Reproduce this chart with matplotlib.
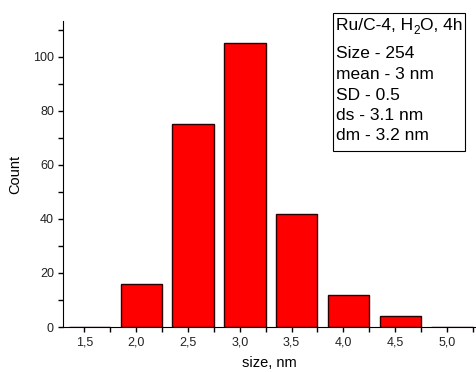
import numpy as np
import matplotlib.pyplot as plt
from matplotlib.patches import Rectangle
from matplotlib.ticker import MultipleLocator, FuncFormatter

plt.rcParams['font.family'] = ['Liberation Sans', 'DejaVu Sans']

# histogram data
sizes = [1.5, 2.0, 2.5, 3.0, 3.5, 4.0, 4.5, 5.0]
counts = [0, 16, 75, 105, 42, 12, 4, 0]
title_parts = ['Ru/C-4, H', '2', 'O, 4h']
info = ['Size - 254', 'mean - 3 nm', 'SD - 0.5', 'ds - 3.1 nm', 'dm - 3.2 nm']

W, H = 476, 372
fig = plt.figure(figsize=(W/100, H/100), dpi=100)
ax = fig.add_axes([63/W, 45/H, 1 - 63/W, (327 - 21)/H])

x = np.array(sizes)
ax.bar(x - 0.15, counts, width=0.4, align='edge', color='#ff0000',
       edgecolor='#2a0000', linewidth=1.0)

ax.set_xlim(1.295, 5.28)
ax.set_ylim(0, 113.3)

ax.spines['top'].set_visible(False)
ax.spines['right'].set_visible(False)

ax.xaxis.set_major_locator(MultipleLocator(0.5))
ax.xaxis.set_minor_locator(MultipleLocator(0.25))
ax.yaxis.set_major_locator(MultipleLocator(20))
ax.yaxis.set_minor_locator(MultipleLocator(10))
ax.xaxis.set_major_formatter(FuncFormatter(lambda v, p: f'{v:.1f}'.replace('.', ',')))
ax.tick_params(which='both', direction='out', length=3.5, width=1, labelsize=9,
               colors='black', labelcolor='#222222', pad=3)

ax.set_xlabel('size, nm', fontsize=10.5, labelpad=6)
ax.set_ylabel('Count', fontsize=10.5, labelpad=8)

# info box
fig.patches.append(Rectangle((333/W, 1 - 151/H), 132/W, 138/H, transform=fig.transFigure,
                             facecolor='white', edgecolor='black', linewidth=0.8))

# first line with a lowered subscript, pieces placed one after another
renderer = fig.canvas.get_renderer()
xpos = 336
for part, size, drop in zip(title_parts, [12.5, 8.5, 12.5], [0, 4.5, 0]):
    t = fig.text(xpos/W, 1 - (30 + drop)/H, part, fontsize=size, va='baseline', ha='left')
    xpos += t.get_window_extent(renderer).width + 0.3

baselines = [58.5, 79, 99.5, 119.5, 140]
for line, yb in zip(info, baselines):
    fig.text(336/W, 1 - yb/H, line, fontsize=12.5, va='baseline', ha='left')

fig.savefig('out.png', dpi=100)
